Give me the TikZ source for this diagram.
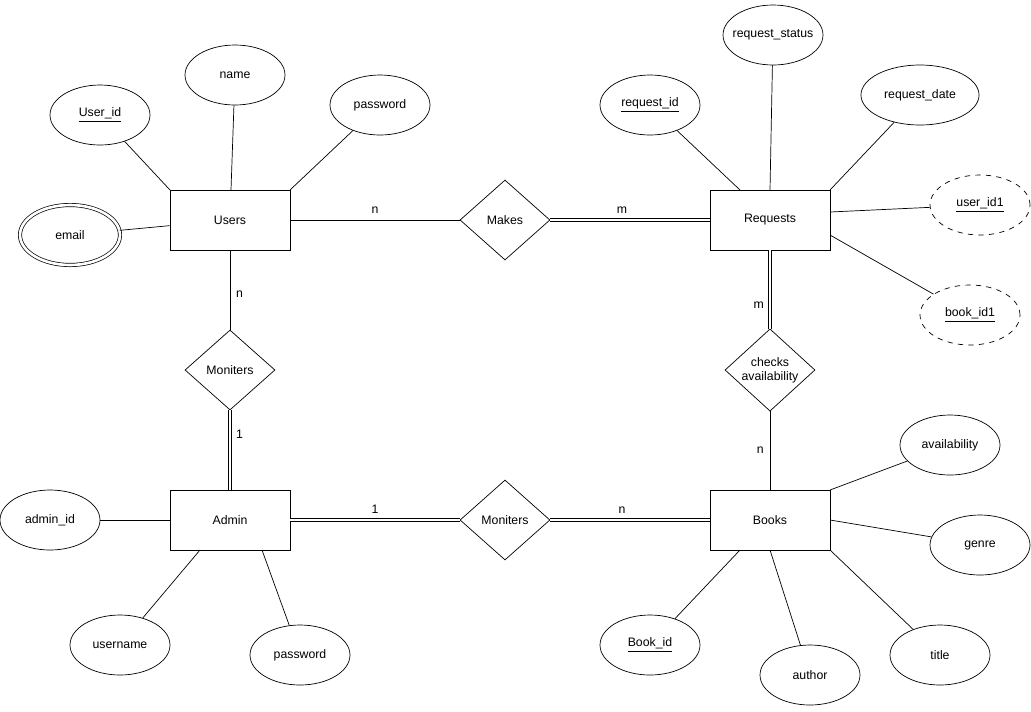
\documentclass[tikz,border=0pt]{standalone}
\usepackage{fontspec}
\setmainfont{Liberation Sans}
\usetikzlibrary{shapes.geometric}
\begin{document}
\begin{tikzpicture}[x=0.02cm, y=-0.02cm, font=\fontsize{7}{8}\selectfont,
    entity/.style={rectangle, draw, minimum width=2.4cm, minimum height=1.2cm},
    rel/.style={diamond, draw, minimum width=1.8cm, minimum height=1.6cm, inner sep=0pt, align=center},
    attr/.style={ellipse, draw, minimum width=2cm, minimum height=1.2cm},
    weak/.style={attr, dashed},
    multi/.style={attr, double, double distance=1.5pt},
    total/.style={double, double distance=1.5pt}]
    \useasboundingbox (0,0) rectangle (1031,711);

    % Entities
    \node [entity] (users) at (230,220) {Users};
    \node [entity] (requests) at (770,220) {Requests};
    \node [entity] (admin) at (230,520) {Admin};
    \node [entity] (books) at (770,520) {Books};

    % Relationships
    \node [rel] (makes) at (505,220) {Makes};
    \node [rel] (monitop) at (230,370) {Moniters};
    \node [rel] (checks) at (770,370) {checks\\availability};
    \node [rel] (monibot) at (505,520) {Moniters};

    % Users attributes
    \node [attr] (userid) at (100,115) {\underline{User\_id}};
    \node [attr] (name) at (235,75) {name};
    \node [attr] (upass) at (380,105) {password};
    \node [multi] (email) at (70,235) {email};

    % Requests attributes
    \node [attr] (reqid) at (650,105) {\underline{request\_id}};
    \node [attr, inner xsep=-12pt] (reqstatus) at (773,35) {request\_status};
    \node [attr] (reqdate) at (920,95) {request\_date};
    \node [weak] (uid1) at (980,205) {\underline{user\_id1}};
    \node [weak] (bid1) at (970,315) {\underline{book\_id1}};

    % Admin attributes
    \node [attr] (adminid) at (50,520) {admin\_id};
    \node [attr] (uname) at (120,645) {username};
    \node [attr] (apass) at (300,655) {password};

    % Books attributes
    \node [attr] (avail) at (950,445) {availability};
    \node [attr] (genre) at (980,545) {genre};
    \node [attr] (title) at (940,655) {title};
    \node [attr] (author) at (810,675) {author};
    \node [attr] (bookid) at (650,645) {\underline{Book\_id}};

    % Attribute links
    \draw (userid) -- (170,190);
    \draw (name) -- (231,190);
    \draw (upass) -- (290,190);
    \draw (email) -- (users);
    \draw (reqid) -- (740,190);
    \draw (reqstatus) -- (770,190);
    \draw (reqdate) -- (830,190);
    \draw (uid1) -- (830,212);
    \draw (bid1) -- (830,235);
    \draw (adminid) -- (admin);
    \draw (uname) -- (200,550);
    \draw (apass) -- (262,550);
    \draw (avail) -- (830,490);
    \draw (genre) -- (830,520);
    \draw (title) -- (830,550);
    \draw (author) -- (770,550);
    \draw (bookid) -- (740,550);

    % Relationship links
    \draw (users) -- node [above, pos=0.5] {n} (makes);
    \draw [total] (makes) -- node [above, pos=0.45] {m} (requests);
    \draw (users) -- node [right, pos=0.55] {n} (monitop);
    \draw [total] (monitop) -- node [right, pos=0.3] {1} (admin);
    \draw [total] (requests) -- node [left, pos=0.7] {m} (checks);
    \draw (checks) -- node [left, pos=0.5] {n} (books);
    \draw [total] (admin) -- node [above, pos=0.5] {1} (monibot);
    \draw [total] (monibot) -- node [above, pos=0.45] {n} (books);
\end{tikzpicture}
\end{document}
